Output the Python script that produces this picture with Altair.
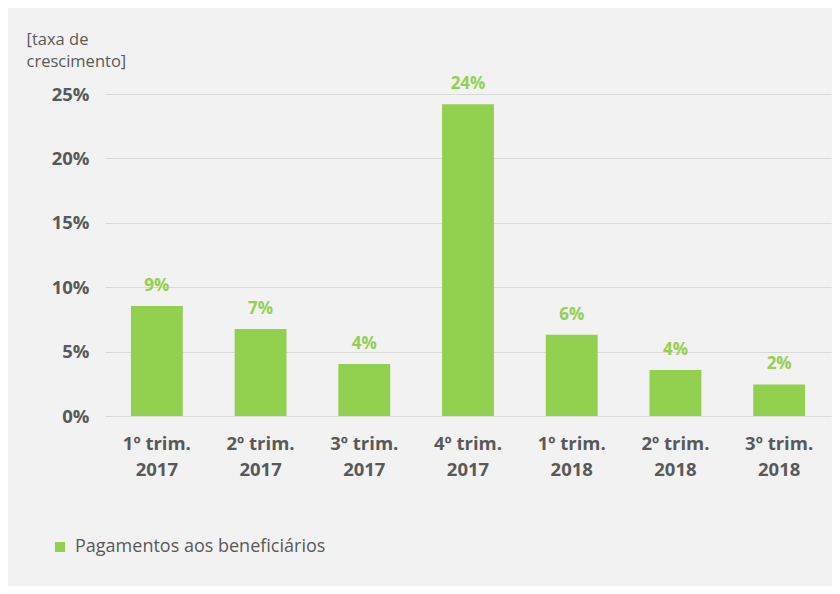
import altair as alt
import pandas as pd

quarters = ["1º trim.", "2º trim.", "3º trim.", "4º trim.", "1º trim.", "2º trim.", "3º trim."]
years = ["2017", "2017", "2017", "2017", "2018", "2018", "2018"]
values = [0.0855, 0.0675, 0.0404, 0.242, 0.063, 0.0358, 0.0245]
series = "Pagamentos aos beneficiários"

cats = [f"{q} {y}" for q, y in zip(quarters, years)]
df = pd.DataFrame({"cat": cats, "v": values, "serie": [series] * len(cats)})

FONT = "Open Sans"
GREEN = "#92d050"
GREY = "#595959"

base = alt.Chart(df).encode(
    x=alt.X("cat:N", sort=cats, title=None,
            scale=alt.Scale(paddingInner=0.5, paddingOuter=0.25),
            axis=alt.Axis(labelExpr="[substring(datum.label, 0, 8), substring(datum.label, 9)]",
                          labelAngle=0, labelFont=FONT, labelFontSize=18.5, labelFontWeight="bold",
                          labelColor=GREY, labelPadding=18, labelLineHeight=26,
                          domain=False, ticks=False, grid=False)),
    y=alt.Y("v:Q", title=["[taxa de", "crescimento]"],
            scale=alt.Scale(domain=[0, 0.25], nice=False),
            axis=alt.Axis(values=[0, 0.05, 0.10, 0.15, 0.20, 0.25], format=".0%",
                          labelFont=FONT, labelFontSize=18.5, labelFontWeight="bold",
                          labelColor=GREY, labelPadding=16, domain=False, ticks=False,
                          grid=True, gridColor="#d9d9d9", gridWidth=1,
                          titleAngle=0, titleAlign="left", titleBaseline="alphabetic",
                          titleX=-79, titleY=-50, titleFont=FONT, titleFontSize=16.5,
                          titleFontWeight="normal", titleColor=GREY, titleLineHeight=22)),
)

bars = base.mark_bar(color=GREEN).encode(
    color=alt.Color("serie:N", scale=alt.Scale(range=[GREEN]),
                    legend=alt.Legend(title=None, orient="none", legendX=-54, legendY=444,
                                      symbolType="square", symbolSize=100, symbolStrokeWidth=0,
                                      labelFont=FONT, labelFontSize=18, labelColor=GREY,
                                      labelOffset=6, labelLimit=0))
)

labels = base.mark_text(baseline="bottom", dy=-11, font=FONT, fontSize=17,
                        fontWeight="bold", color=GREEN).encode(text=alt.Text("v:Q", format=".0%"))

chart = (bars + labels).properties(
    width=726, height=322,
    autosize=alt.AutoSizeParams(type="none"),
    padding={"left": 97, "top": 86, "right": 1, "bottom": 170},
    background="#f2f2f2",
).configure_view(stroke=None)

chart.save("out.html", embed_options={"renderer": "svg", "actions": False})
